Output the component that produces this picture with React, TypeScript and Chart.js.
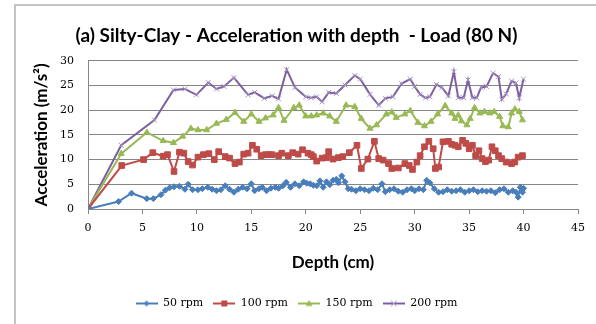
import React, { useEffect, useRef } from 'react';
import { Chart, registerables } from 'chart.js';

Chart.register(...registerables);

const chartTitle = '(a) Silty-Clay - Acceleration with depth  - Load (80 N)';
const xAxisTitle = 'Depth (cm)';
const yAxisTitle = 'Acceleration (m/s²)';
const seriesNames = ['50 rpm', '100 rpm', '150 rpm', '200 rpm'];
const lineColors = ['#4a7ebb', '#be4b48', '#98b954', '#7d60a0'];
const markerColors = ['#4a7ebb', '#be4b48', '#98b954', '#a995c6'];
const markerShapes = ['rectRot', 'rect', 'triangle', 'crossRot'];

const depth50 = [0, 2.8, 4.0, 5.4, 6.0, 6.7, 7.1, 7.5, 7.9, 8.4, 8.9, 9.2, 9.6, 10.1, 10.5, 11.0, 11.4, 11.8, 12.2, 12.6, 13.0, 13.4, 13.8, 14.2, 14.6, 15.0, 15.3, 15.7, 16.0, 16.4, 16.8, 17.2, 17.5, 17.9, 18.2, 18.6, 19.0, 19.4, 19.8, 20.1, 20.4, 20.7, 21.0, 21.3, 21.6, 21.9, 22.2, 22.5, 22.8, 23.0, 23.3, 23.6, 23.9, 24.2, 24.6, 25.0, 25.4, 25.8, 26.2, 26.6, 27.0, 27.3, 27.7, 28.1, 28.5, 28.9, 29.3, 29.7, 30.0, 30.4, 30.8, 31.1, 31.4, 31.8, 32.2, 32.6, 33.0, 33.4, 33.8, 34.2, 34.6, 35.0, 35.4, 35.8, 36.2, 36.6, 37.0, 37.4, 37.8, 38.2, 38.6, 39.0, 39.3, 39.5, 39.7, 39.9, 40.0];
const acc50 = [0, 1.5, 3.2, 2.1, 2.1, 2.9, 3.8, 4.3, 4.5, 4.6, 4.0, 5.0, 3.9, 3.9, 4.1, 4.4, 4.0, 3.7, 3.9, 4.7, 4.0, 3.4, 4.0, 4.4, 4.1, 5.1, 3.7, 4.1, 4.4, 3.7, 4.2, 4.4, 4.2, 4.7, 5.4, 4.4, 5.1, 4.7, 5.5, 5.2, 5.1, 4.8, 4.7, 5.7, 4.4, 5.5, 4.9, 5.8, 6.0, 5.3, 6.7, 5.5, 4.1, 4.0, 3.7, 4.1, 3.9, 3.7, 4.2, 3.9, 5.1, 3.5, 3.9, 4.1, 3.6, 3.4, 3.9, 4.1, 3.7, 4.1, 3.9, 5.8, 5.3, 4.1, 3.4, 3.5, 3.9, 3.6, 3.7, 3.9, 3.4, 3.7, 3.9, 3.5, 3.7, 3.6, 3.7, 3.3, 3.9, 4.1, 3.4, 3.7, 3.4, 2.4, 4.4, 3.4, 4.2];

const depth100 = [0, 3.1, 5.1, 5.95, 6.9, 7.3, 7.9, 8.4, 8.8, 9.2, 9.6, 10.1, 10.6, 11.1, 11.6, 12.0, 12.6, 13.0, 13.5, 13.9, 14.3, 14.7, 15.1, 15.5, 15.9, 16.3, 16.6, 16.9, 17.5, 17.8, 18.4, 18.8, 19.3, 19.7, 20.2, 20.5, 20.7, 21.0, 21.5, 21.9, 22.1, 22.5, 23.0, 23.4, 24.0, 24.7, 25.1, 25.7, 26.3, 26.7, 27.1, 27.6, 27.9, 28.5, 29.1, 29.5, 29.8, 30.2, 30.5, 30.9, 31.3, 31.7, 31.9, 32.2, 32.6, 33.1, 33.4, 33.7, 34.0, 34.4, 34.7, 35.0, 35.3, 35.6, 35.9, 36.2, 36.5, 36.8, 37.1, 37.4, 37.7, 38.0, 38.4, 38.9, 39.2, 39.5, 39.9];
const acc100 = [0, 8.8, 10.0, 11.4, 10.7, 11.0, 7.6, 11.5, 11.3, 9.6, 8.9, 10.5, 11.0, 11.2, 10.0, 11.6, 10.6, 10.3, 9.2, 9.5, 11.1, 11.3, 12.9, 12.1, 10.8, 11.0, 11.0, 11.0, 10.8, 11.3, 10.8, 11.4, 11.1, 12.0, 11.3, 11.0, 10.6, 9.7, 10.3, 10.4, 11.6, 10.1, 10.4, 10.6, 11.4, 12.9, 8.2, 10.1, 13.7, 10.2, 9.9, 9.2, 8.2, 8.3, 9.2, 8.8, 8.0, 9.5, 10.8, 12.6, 13.7, 12.2, 8.2, 8.5, 13.6, 13.7, 13.1, 12.9, 12.6, 13.9, 13.3, 12.2, 12.9, 10.8, 11.8, 10.2, 9.6, 9.9, 12.6, 11.8, 10.8, 10.2, 9.5, 9.2, 9.5, 10.5, 10.8];

const depth150 = [0, 3.05, 5.4, 6.9, 7.85, 8.7, 9.45, 10.1, 10.9, 11.8, 12.7, 13.5, 14.3, 15.0, 15.7, 16.3, 17.0, 17.5, 18.0, 18.9, 19.4, 20.0, 20.5, 21.0, 21.6, 22.2, 22.8, 23.7, 24.5, 25.1, 25.9, 26.5, 27.4, 27.9, 28.3, 29.1, 29.6, 30.3, 30.9, 31.5, 32.1, 32.8, 33.4, 33.7, 34.0, 34.3, 34.8, 35.1, 35.5, 36.0, 36.4, 36.9, 37.3, 37.8, 38.1, 38.6, 38.9, 39.2, 39.6, 39.9];
const acc150 = [0, 11.2, 15.5, 13.8, 13.4, 14.7, 16.3, 16.0, 16.0, 17.3, 18.1, 19.5, 17.7, 19.2, 17.7, 18.4, 19.0, 20.5, 17.9, 20.5, 21.0, 18.8, 18.8, 19.0, 19.4, 18.8, 17.7, 21.0, 20.7, 18.3, 16.3, 17.0, 19.2, 19.6, 18.5, 19.2, 19.9, 17.5, 16.8, 17.7, 19.2, 20.9, 19.4, 18.3, 19.0, 17.8, 17.0, 18.3, 20.5, 19.4, 19.7, 19.4, 19.7, 18.7, 16.8, 16.6, 19.4, 20.2, 19.7, 18.0];

const depth200 = [0, 3.05, 6.1, 7.85, 8.9, 9.95, 11.05, 11.8, 12.5, 13.4, 14.7, 15.3, 16.2, 16.9, 17.5, 18.25, 19.0, 20.0, 20.5, 21.0, 21.5, 22.1, 22.8, 23.6, 24.5, 25.0, 25.9, 26.7, 27.3, 28.0, 28.8, 29.6, 30.0, 30.5, 31.0, 31.4, 32.0, 32.5, 33.1, 33.6, 34.0, 34.5, 34.9, 35.3, 35.7, 36.1, 36.6, 37.2, 37.7, 38.0, 38.4, 38.9, 39.3, 39.6, 40.0];
const acc200 = [0, 12.9, 18.0, 24.1, 24.3, 23.1, 25.6, 24.3, 24.8, 26.6, 23.1, 23.6, 22.4, 22.9, 22.3, 28.2, 24.6, 22.7, 22.5, 22.7, 21.7, 23.6, 23.4, 25.1, 27.0, 26.3, 23.2, 21.0, 22.4, 22.7, 25.4, 26.3, 24.8, 23.2, 22.5, 22.7, 25.2, 24.6, 22.9, 27.8, 22.5, 22.5, 26.1, 22.5, 22.5, 24.6, 24.8, 27.5, 26.8, 22.2, 23.3, 25.9, 25.5, 22.5, 26.3];

const depths = [depth50, depth100, depth150, depth200];
const accs = [acc50, acc100, acc150, acc200];

function legendIcon(lineColor: string, markerColor: string, shape: string) {
  const c = document.createElement('canvas');
  c.width = 22;
  c.height = 10;
  const g = c.getContext('2d')!;
  g.strokeStyle = lineColor;
  g.lineWidth = 2;
  g.beginPath();
  g.moveTo(0, 5);
  g.lineTo(22, 5);
  g.stroke();
  g.fillStyle = markerColor;
  g.strokeStyle = markerColor;
  g.lineWidth = 1;
  const cx = 11, cy = 5;
  g.beginPath();
  if (shape === 'rectRot') {
    g.moveTo(cx, cy - 3); g.lineTo(cx + 3, cy); g.lineTo(cx, cy + 3); g.lineTo(cx - 3, cy); g.closePath(); g.fill();
  } else if (shape === 'rect') {
    g.rect(cx - 3, cy - 3, 6, 6); g.fill();
  } else if (shape === 'triangle') {
    g.moveTo(cx, cy - 3.5); g.lineTo(cx + 3.5, cy + 2.5); g.lineTo(cx - 3.5, cy + 2.5); g.closePath(); g.fill();
  } else {
    g.moveTo(cx - 3, cy - 3); g.lineTo(cx + 3, cy + 3); g.moveTo(cx + 3, cy - 3); g.lineTo(cx - 3, cy + 3); g.stroke();
  }
  return c;
}

const borderPlugin = {
  id: 'outerBorder',
  beforeDraw(chart: any) {
    const ctx = chart.ctx;
    ctx.save();
    ctx.fillStyle = '#ffffff';
    ctx.fillRect(0, 0, chart.width, chart.height);
    ctx.strokeStyle = '#c4c4c4';
    ctx.lineWidth = 2;
    ctx.strokeRect(15, 5, 700, 700);
    ctx.restore();
  },
};

export default function App() {
  const ref = useRef<HTMLCanvasElement>(null);
  useEffect(() => {
    document.body.style.margin = '0';
    const icons = lineColors.map((c, i) => legendIcon(c, markerColors[i], markerShapes[i]));
    const tickFont = { family: 'DejaVu Serif', size: 11 };
    const chart = new Chart(ref.current!, {
      type: 'line',
      data: {
        datasets: seriesNames.map((name, i) => ({
          label: name,
          data: depths[i].map((d, j) => ({ x: d, y: accs[i][j] })),
          borderColor: lineColors[i],
          backgroundColor: markerColors[i],
          borderWidth: 2,
          pointStyle: markerShapes[i] as any,
          pointRadius: i === 1 ? 4 : i === 0 ? 3 : 3.5,
          pointBorderColor: markerColors[i],
          pointBackgroundColor: markerColors[i],
          pointBorderWidth: 1,
          tension: 0,
        })),
      },
      options: {
        responsive: false,
        animation: false,
        layout: { padding: { left: 15, right: 18, top: 5, bottom: 5 } },
        plugins: {
          title: {
            display: true,
            text: chartTitle,
            color: '#000',
            font: { family: 'Lato', size: 19, weight: 'bold' },
            padding: { top: 19, bottom: 14 },
          },
          legend: {
            position: 'bottom',
            labels: {
              usePointStyle: true,
              pointStyleWidth: 22,
              boxHeight: 10,
              padding: 10,
              color: '#000',
              font: { family: 'DejaVu Serif', size: 11 },
              generateLabels: (ch: any) => {
                const items = Chart.defaults.plugins.legend.labels.generateLabels(ch);
                return items.map((it: any, i: number) => ({ ...it, pointStyle: icons[i], lineWidth: 0 }));
              },
            },
          },
          tooltip: { enabled: false },
        },
        scales: {
          x: {
            type: 'linear',
            min: 0,
            max: 45,
            ticks: { stepSize: 5, color: '#000', font: tickFont, padding: 8 },
            grid: { drawOnChartArea: false, tickLength: 5, color: '#868686' },
            border: { color: '#868686' },
            title: {
              display: true,
              text: xAxisTitle,
              color: '#000',
              font: { family: 'Lato', size: 17, weight: 'bold' },
              padding: { top: 0, bottom: 15 },
            },
            afterFit: (s: any) => { s.height = 79; },
          },
          y: {
            min: 0,
            max: 30,
            ticks: { stepSize: 5, color: '#000', font: tickFont, padding: 14 },
            grid: { color: '#868686', drawTicks: false },
            border: { color: '#868686' },
            title: {
              display: true,
              text: yAxisTitle,
              color: '#000',
              font: { family: 'Lato', size: 17, weight: 'bold' },
              padding: { top: 16, bottom: 0 },
            },
            afterFit: (s: any) => { s.width = 73; },
          },
        },
      } as any,
      plugins: [borderPlugin],
    });
    return () => chart.destroy();
  }, []);
  return <canvas ref={ref} width={596} height={324} style={{ display: 'block', width: 596, height: 324 }} />;
}
